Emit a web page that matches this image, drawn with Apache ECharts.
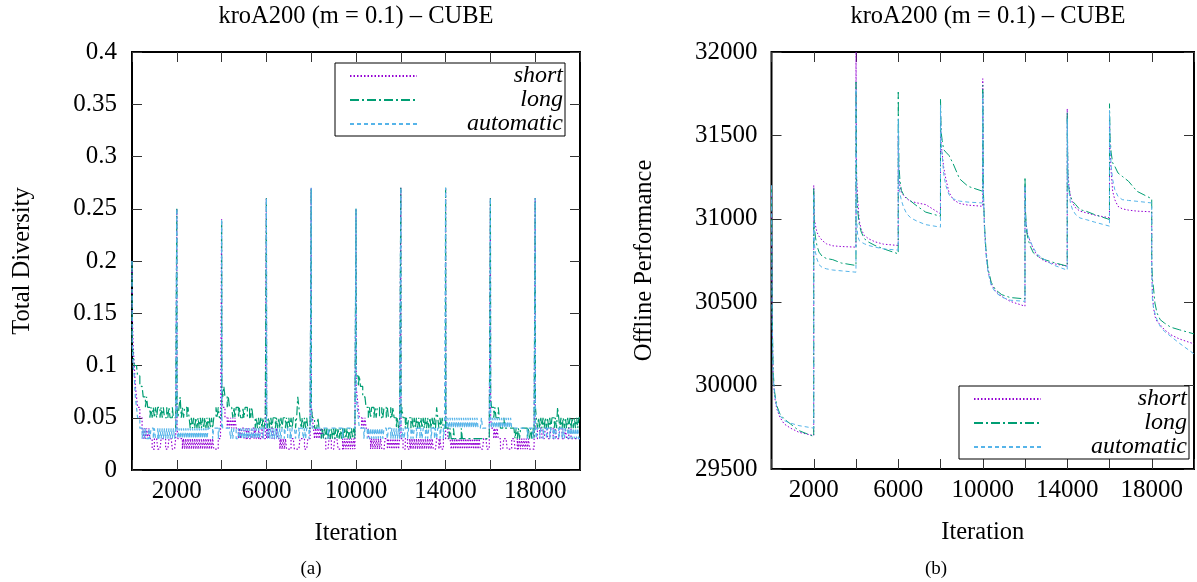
<!DOCTYPE html>
<html>
<head>
<meta charset="utf-8">
<script src="https://cdn.jsdelivr.net/npm/echarts@6/dist/echarts.min.js"></script>
<style>
  html, body { margin: 0; padding: 0; background: #fff; }
  #chart { width: 1197px; height: 582px; }
</style>
</head>
<body>
<div id="chart"></div>
<script>
// --- (a) Total Diversity, in hundredths, one value every 50 iterations (40 per change period)
const DIV_STEP = 50;
// value at iteration 0, 2000, 4000 ... (the spike right after each change)
const divPeaks = [0.2, 0.25, 0.24, 0.26, 0.27, 0.25, 0.27, 0.27, 0.26, 0.26];

const divShort = [
  15,12,10,8,7,6,6,5,5,4, 3,4,3,4,3,4,3,3,2,2, 3,3,3,2,2,2,3,3,3,3, 2,2,2,3,3,3,2,2,2,3,
  4,3,3,3,3,2, 3,2,3,2,3,2,3,2,3,2,3,2,3,2, 3,2,3,2,3,2,3,2,3,2,3,2,3,2, 2,2,2,3,3,3,
  7,6,6,5, 5,4,5,4,5,4,5,4,5,4, 4,3,4,3,4,4,3,3,4,3, 4,3,3,4,4,3,4,3,3,4, 3,3,4,3,3,4,
  3,4,3,4,4,3,4,3,3,4,3,3, 2,3,2,3,2,3, 2,2,2,2,3,3,3,2,2,2,2,2,3,3,3,3,2,2,2,3,3,3,
  6,5,4,3,4,3,4,3,4,3,4,3, 3,2,2,2,3,3,2,2,2,3,3,3,2,2,2,2, 3,2,3,2,3,2,3,2,3,2,3,2,
  8,7,6,5,5,4,5,4,5,4,4,3, 3,2,3,2,3,2,3,2,3,2,3,2, 2,2,3,3,2,3,2,3,2,3,2,3,2,3,2,3,
  3,3,2,2,3,3,2,2, 3,2,3,2,3,2,3,2,3,2,3,2,3,2,3,2,3,2,3,2,3,2, 2,2,3,3,2,3,2,2,3,3,
  4,4,3,3,3,2, 3,2,3,2,3,2,3,2,3,2,3,2,3,2,3,2,3,2,3,2,3,2,3,2,3,2, 2,2,3,3,3,2,2,3,
  5,4,4,3,4,3,4,3, 3,2,2,2,3,3,3,2,2,2,2,3,3,3,2,2, 3,2,3,2,3,2,3,2,3,2,3,2,2,2,2,2,
  4,4,3,3,4,4,3,3,3,4,4,3,3,3,4,4,3,3,4,3, 3,3,4,4,3,3,3,4,3,3,4,4,3,3,3,3,3,3,3,3
];

const divLong = [
  12,11,10,10,10,9,9,8,8,8,7,7,6,7,6,6,5,6,5,6, 5,6,5,6,6,5,6,5,6,5,5,6,5,6,5,5,6,5,5,4,
  6,5,6,7,5,6,5,6,6,5,6,5, 4,5,4,5,4,5,4,5,4,5,4,5,4,5,4,5,4,5,4,5,4,5, 5,6,5,6,5,5,
  8,7,8,7,7,6,7,6,6,6, 5,6,5,6,6,5,6,5,5,6,5,6,6,5,5,6,5,6,5,5, 4,5,4,5,4,5,4,5,4,5,
  5,4,5,4,5,4,5,5,4,5,4,5,4,5,4,5,5,4,5,4, 5,4,5,4,5,5,4,5,7,6,5,4,5,4,5,4,5,4,4,4,
  6,5,5,4,4,4,5,4,4,3, 4,3,4,3,4,3,4,3,4,3,4,3,4,3,4,3,4,3,4,3,4,3,4,3,4,3,4,3,4,3,
  9,9,8,9,8,8,7,7,7,6, 6,5,6,5,6,6,5,6,5,6,6,5,5,6,5,6,6,5,6,5,5,6,5,6,5,5, 4,5,4,5,
  5,6,5,5,4,5,4,5,5,4, 5,4,5,4,5,4,5,4,5,4,5,4,5,4,5,4,5,4,5,4,5,4, 6,5,4,5,4,5,4,4,
  5,4,4,3,4,3,3,4,3,3, 3,3,3,3,4,3,3,3,3,3, 3,3,3,3,3,3,3,3,3,3, 3,3,3,3,3,3,3,3,3,3,
  7,6,6,5,6,5,5,6,5,4, 4,4,5,4,4,4,4,4,4,4, 4,4,3,4,3,4,3,4,4,4, 4,4,4,3,4,3,4,3,4,3,
  6,5,4,5,4,5,4,5,4,5, 4,5,4,5,4,5,5,4,5,4, 6,5,4,5,4,5,4,5,4,5, 4,5,4,5,4,5,4,5,4,5
];

const divAuto = [
  12,10,9,7,6,5,5,4,4,3, 4,3,4,3,3,4,3,4,4,3, 4,3,3,4,3,4,3,4,3,4,3,4,3,4,3,4,3,4,3,4,
  4,3,4,3,4,3,4,3,4,3,4,3,4,3,4,3,4,3,4,3,4,3,4,3,4,3,4,3, 4,4,4,4,3,4,4,4,4,3,4,4,
  5,4,4,4,4,4,4,4,3,4, 3,4,4,3,3,4,3,4,3,4,3,4,3,4,3,4,3,4,3,4,3,4,3,4,3,4, 4,3,4,4,
  4,3,4,3,4,3,4,3,4,3,4,3,4,3, 4,4,3,4,4,3,3,4,3,4, 4,4,3,4,4,3,4,4,4,3, 4,3,4,4,3,4,
  5,4,4,4,4,4,4,4,4,4, 4,4,4,4,4,3,4,4,4,4, 4,4,4,4,4,4,4,4,3,4, 4,4,4,4,4,4,4,4,4,4,
  7,6,5,4,4,4,4,3,4,4, 3,4,3,4,3,4,3,4,3,4,3,4,3,4,3,4, 4,4,3,4,4,3,4,3,4,3,4,3,4,3,
  4,3,4,3,4,4,3,4,4,3, 4,3,4,4,3,4,4,3,4,3, 4,4,3,4,3,4,4,3,4,4, 3,4,3,4,4,3,4,4,3,4,
  5,4,5,4,5,4,5,4,5,4,5,4,5,4,5,4,5,4,5,4,5,4,5,4,5,4,5,4,5,4, 4,4,5,4,4,4,4,4,4,4,
  5,4,5,4,5,4,5,4,5,4,5,4,5,4,5,4,5,4,5,4, 4,4,4,4,4,4,4,4,4,4, 4,4,4,3,4,4,4,4,3,4,
  4,3,4,4,3,4,4,3,4,4, 3,4,4,3,4,4,3,4,3,4, 4,3,4,4,3,4,3,4,4,3, 4,3,4,3,4,3,4,3,4,3
];

// --- (b) Offline Performance: samples at these offsets inside each 2000-iteration period
const perfOffsets = [0, 30, 80, 150, 250, 400, 600, 900, 1300, 1999];

const perfShort = [
  [31200, 30400, 30050, 29930, 29860, 29810, 29770, 29745, 29720, 29700],
  [31200, 31000, 30960, 30920, 30895, 30870, 30850, 30838, 30834, 30830],
  [32000, 31250, 31120, 30990, 30935, 30900, 30880, 30862, 30848, 30840],
  [31500, 31250, 31190, 31160, 31140, 31120, 31105, 31095, 31085, 31030],
  [31650, 31450, 31390, 31310, 31240, 31160, 31115, 31092, 31082, 31075],
  [31840, 31150, 30950, 30800, 30690, 30610, 30565, 30535, 30505, 30476],
  [31200, 31000, 30935, 30895, 30865, 30815, 30776, 30748, 30732, 30716],
  [31660, 31280, 31200, 31135, 31095, 31065, 31046, 31036, 31022, 31006],
  [31600, 31400, 31280, 31165, 31115, 31075, 31060, 31052, 31046, 31042],
  [30700, 30560, 30470, 30415, 30385, 30365, 30335, 30305, 30280, 30250]
];

const perfLong = [
  [31200, 30450, 30080, 29960, 29880, 29830, 29800, 29770, 29730, 29695],
  [31180, 30950, 30890, 30840, 30800, 30775, 30762, 30755, 30735, 30720],
  [31820, 31200, 31050, 30970, 30920, 30880, 30860, 30840, 30820, 30790],
  [31760, 31330, 31230, 31170, 31145, 31125, 31105, 31075, 31040, 31015],
  [31720, 31520, 31470, 31415, 31400, 31380, 31330, 31240, 31195, 31165],
  [31800, 31170, 30970, 30820, 30700, 30620, 30575, 30545, 30528, 30520],
  [31250, 31030, 30920, 30875, 30835, 30795, 30775, 30756, 30740, 30716],
  [31640, 31260, 31175, 31135, 31105, 31085, 31055, 31045, 31025, 30996],
  [31690, 31480, 31395, 31335, 31315, 31275, 31255, 31225, 31165, 31120],
  [30750, 30640, 30590, 30495, 30435, 30395, 30375, 30350, 30335, 30310]
];

const perfAuto = [
  [31200, 30400, 30050, 29940, 29870, 29820, 29790, 29775, 29760, 29745],
  [31150, 30850, 30800, 30760, 30725, 30708, 30700, 30693, 30688, 30680],
  [31780, 31000, 30900, 30870, 30860, 30850, 30840, 30830, 30820, 30812],
  [31600, 31220, 31150, 31110, 31070, 31030, 31005, 30985, 30965, 30950],
  [31680, 31450, 31380, 31270, 31200, 31145, 31120, 31106, 31100, 31095],
  [31750, 31150, 30940, 30790, 30680, 30600, 30560, 30530, 30512, 30505],
  [31200, 30990, 30950, 30900, 30865, 30825, 30785, 30758, 30725, 30692],
  [31600, 31240, 31170, 31095, 31055, 31025, 31005, 30995, 30980, 30956],
  [31650, 31440, 31315, 31235, 31175, 31135, 31115, 31110, 31105, 31095],
  [30700, 30520, 30470, 30435, 30395, 30355, 30325, 30295, 30255, 30190]
];

const seriesNames = ['short', 'long', 'automatic'];
const colors = ['#9400d3', '#009e73', '#56b4e9'];
const dashes = [[1.5, 2], [9, 3, 2, 3], [4, 3]];
const FONT = 'Liberation Serif';

function diversityPoints(vals) {
  const perPeriod = 2000 / DIV_STEP;
  const pts = [];
  vals.forEach((v, i) => {
    const it = i * DIV_STEP;
    if (i % perPeriod === 0) {
      pts.push([it, divPeaks[i / perPeriod]]);
      pts.push([it + 10, v / 100]);
    } else {
      pts.push([it, v / 100]);
    }
  });
  pts.push([20000, vals[vals.length - 1] / 100]);
  return pts;
}

function perfPoints(segs) {
  const pts = [];
  segs.forEach((seg, s) => {
    seg.forEach((v, k) => pts.push([s * 2000 + perfOffsets[k], v]));
  });
  return pts;
}

const labelFont = { fontFamily: FONT, fontSize: 25, color: '#000' };

function tick() {
  return { show: true, inside: true, length: 10, lineStyle: { color: '#333', width: 1 } };
}

// onZero off, otherwise the mirror axes get pulled onto the zero line of the left chart
function makeXAxes(gridIndex) {
  const base = () => ({
    type: 'value', gridIndex, min: 0, max: 20000, interval: 2000,
    axisLine: { show: false, onZero: false }, splitLine: { show: false }, axisTick: tick()
  });
  return [
    Object.assign(base(), {
      position: 'bottom',
      axisLabel: Object.assign({ margin: 9, formatter: (v) => (v % 4000 === 2000 ? String(v) : '') }, labelFont),
      name: 'Iteration', nameLocation: 'middle', nameGap: 51,
      nameTextStyle: { fontFamily: FONT, fontSize: 24.5, color: '#000' }
    }),
    Object.assign(base(), { position: 'top', axisLabel: { show: false } })
  ];
}

function makeYAxes(gridIndex, min, max, interval, name, nameGap, margin) {
  const base = () => ({
    type: 'value', gridIndex, min, max, interval,
    axisLine: { show: false, onZero: false }, splitLine: { show: false }, axisTick: tick()
  });
  return [
    Object.assign(base(), {
      position: 'left',
      axisLabel: Object.assign({ margin, formatter: (v) => String(+v.toFixed(2)) }, labelFont),
      name, nameLocation: 'middle', nameGap,
      nameTextStyle: { fontFamily: FONT, fontSize: 24.5, color: '#000' }
    }),
    Object.assign(base(), { position: 'right', axisLabel: { show: false } })
  ];
}

function makeLegend(left, top) {
  return {
    data: seriesNames, orient: 'vertical', left, top,
    itemWidth: 67, itemHeight: 14, itemGap: 0,
    padding: [1, 2, 0, 14],
    borderColor: '#000', borderWidth: 1,
    selectedMode: false,
    itemStyle: { color: 'transparent', borderColor: 'transparent', borderWidth: 0 },
    formatter: (name) => '{t|' + name + '}',
    textStyle: {
      rich: {
        t: { width: 141, align: 'right', fontStyle: 'italic', fontFamily: FONT, fontSize: 24, lineHeight: 24, color: '#000' }
      }
    }
  };
}

const divData = [divShort, divLong, divAuto];
const perfData = [perfShort, perfLong, perfAuto];

const series = [];
seriesNames.forEach((name, k) => {
  series.push({
    name, type: 'line', xAxisIndex: 0, yAxisIndex: 0, step: 'end', symbol: 'none',
    data: diversityPoints(divData[k]),
    lineStyle: { color: colors[k], width: 1.2, type: dashes[k] },
    itemStyle: { color: colors[k] }
  });
});
seriesNames.forEach((name, k) => {
  series.push({
    name, type: 'line', xAxisIndex: 2, yAxisIndex: 2, symbol: 'none',
    data: perfPoints(perfData[k]),
    lineStyle: { color: colors[k], width: 1, type: dashes[k] },
    itemStyle: { color: colors[k] }
  });
});

const chart = echarts.init(document.getElementById('chart'), null, { renderer: 'canvas' });

const titleText = 'kroA200 (m = 0.1) \u2013 CUBE';
chart.setOption({
  animation: false,
  backgroundColor: '#fff',
  grid: [
    { left: 132, top: 52, width: 448, height: 418, show: true, borderColor: '#000', borderWidth: 2 },
    { left: 771.5, top: 52, width: 435, height: 417, show: true, borderColor: '#000', borderWidth: 2 }
  ],
  xAxis: makeXAxes(0).concat(makeXAxes(1)),
  yAxis: makeYAxes(0, 0, 0.4, 0.05, 'Total Diversity', 97, 15)
    .concat(makeYAxes(1, 29500, 32000, 500, 'Offline Performance', 114, 14)),
  legend: [makeLegend(335, 63), makeLegend(959, 386)],
  graphic: [
    { type: 'text', x: 356, y: 17, style: { text: titleText, fontFamily: FONT, fontSize: 24.5, fill: '#000', align: 'center', verticalAlign: 'middle' } },
    { type: 'text', x: 988, y: 17, style: { text: titleText, fontFamily: FONT, fontSize: 24.5, fill: '#000', align: 'center', verticalAlign: 'middle' } },
    { type: 'text', x: 311, y: 569, style: { text: '(a)', fontFamily: FONT, fontSize: 19, fill: '#000', align: 'center', verticalAlign: 'middle' } },
    { type: 'text', x: 936, y: 569, style: { text: '(b)', fontFamily: FONT, fontSize: 19, fill: '#000', align: 'center', verticalAlign: 'middle' } }
  ],
  series
});
</script>
</body>
</html>
